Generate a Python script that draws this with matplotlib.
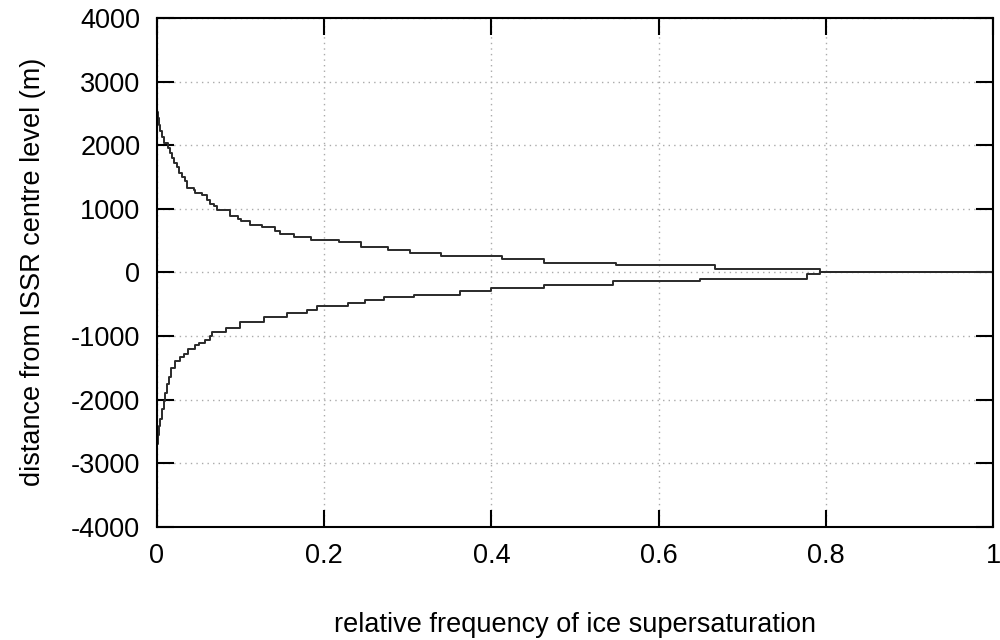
import numpy as np
import matplotlib
matplotlib.use('Agg')
import matplotlib.pyplot as plt

### DATA
# upper branch: height above ISSR centre (m) and left end of each step (rel. frequency)
up_height = [2520, 2420, 2320, 2220, 2120, 2030, 1960, 1870, 1800, 1720, 1650, 1560,
             1500, 1440, 1320, 1290, 1240, 1210, 1135, 1080, 1050, 975, 880, 840,
             810, 745, 715, 655, 605, 555, 515, 470, 400, 355, 305, 262, 211, 147,
             116, 53, 0, 0]
up_freq = [0.000, 0.001, 0.002, 0.004, 0.006, 0.008, 0.013, 0.015, 0.018, 0.020, 0.024, 0.026,
           0.030, 0.034, 0.036, 0.044, 0.046, 0.054, 0.060, 0.063, 0.068, 0.072, 0.087, 0.097,
           0.100, 0.111, 0.125, 0.141, 0.147, 0.164, 0.184, 0.218, 0.244, 0.276, 0.303, 0.340,
           0.413, 0.463, 0.549, 0.668, 0.793, 1.0]

# lower branch: below ISSR centre
lo_height = [-2700, -2560, -2420, -2300, -2150, -2020, -1900, -1760, -1640, -1500, -1400,
             -1330, -1280, -1200, -1150, -1110, -1060, -1000, -935, -870, -782, -702, -640,
             -588, -530, -483, -432, -388, -354, -288, -245, -195, -142, -100, -30, 0, 0]
lo_freq = [0.000, 0.001, 0.002, 0.004, 0.006, 0.008, 0.010, 0.012, 0.014, 0.017, 0.022,
           0.027, 0.032, 0.037, 0.046, 0.050, 0.057, 0.063, 0.066, 0.082, 0.099, 0.128, 0.155,
           0.179, 0.191, 0.229, 0.249, 0.271, 0.307, 0.362, 0.400, 0.463, 0.545, 0.650, 0.777,
           0.793, 1.0]

xticks = [0, 0.2, 0.4, 0.6, 0.8, 1]
xticklabels = ['0', '0.2', '0.4', '0.6', '0.8', '1']
yticks = [-4000, -3000, -2000, -1000, 0, 1000, 2000, 3000, 4000]

### PLOT
plt.rcParams['font.family'] = ['Liberation Sans', 'DejaVu Sans']
plt.rcParams['axes.unicode_minus'] = False
fig = plt.figure(figsize=(10, 6.4), dpi=100)
ax = fig.add_axes([0.157, 0.177, 0.836, 0.795])

ax.plot(up_freq, up_height, drawstyle='steps-post', color='#2a2a2a', lw=1.4)
ax.plot(lo_freq, lo_height, drawstyle='steps-post', color='#2a2a2a', lw=1.4)

ax.set_xlim(0, 1)
ax.set_ylim(-4000, 4000)
ax.set_xticks(xticks)
ax.set_xticklabels(xticklabels)
ax.set_yticks(yticks)

ax.grid(True, linestyle=(0, (1, 3)), color='#aaaaaa', lw=1)
ax.tick_params(direction='in', length=12, width=1.5, top=True, right=True,
               labelsize=19.5, pad=12)
for s in ax.spines.values():
    s.set_linewidth(1.5)

ax.set_xlabel('relative frequency of ice supersaturation', fontsize=19.5)
ax.set_ylabel('distance from ISSR centre level (m)', fontsize=19.5)
ax.xaxis.set_label_coords(0.5, -0.168)
ax.yaxis.set_label_coords(-0.133, 0.5)

fig.savefig('out.png', dpi=100)
